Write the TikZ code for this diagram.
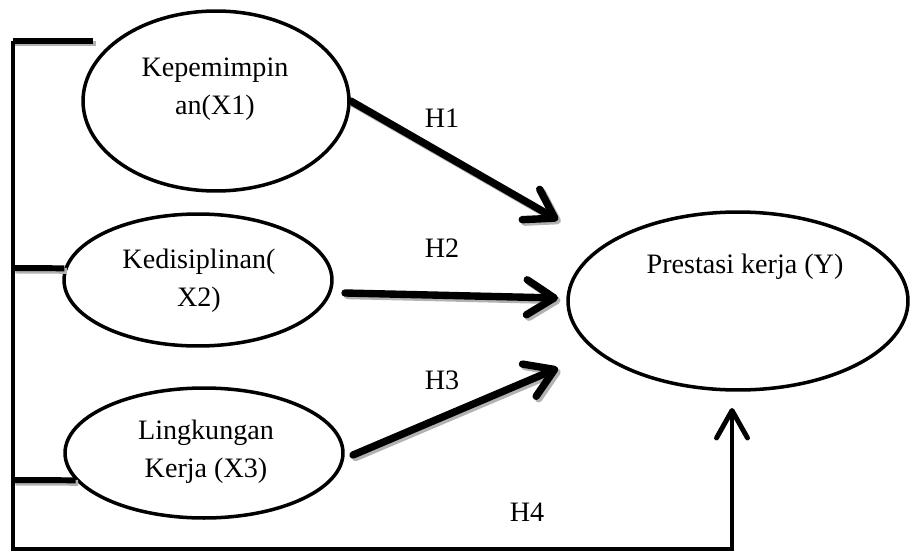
\documentclass[tikz,border=0pt]{standalone}
\usepackage{fontspec}
\setmainfont{Liberation Serif}
\usetikzlibrary{shapes.geometric, arrows.meta}

\tikzset{
    var/.style={draw, ellipse, line width=2pt, inner sep=0pt},
    txt/.style={align=center, font=\fontsize{16}{21.5}\selectfont},
    hyp/.style={line width=4.2pt, line cap=round, line join=round,
        -{Straight Barb[length=0.55cm, width=0.7cm, line cap=round, line join=round]}},
    frame/.style={line width=2.8pt, line join=miter,
        -{Straight Barb[length=0.55cm, width=0.62cm, line cap=round, line join=round]}},
    stub/.style={line width=3.4pt},
    shade/.style={black!30, transform canvas={shift={(0.05cm,-0.05cm)}}},
}

\begin{document}
\begin{tikzpicture}[x=0.02cm, y=-0.02cm]

    \useasboundingbox (0,0) rectangle (911,554);

    % --- Variables ---
    \node[var, minimum width=5.32cm, minimum height=3.6cm]  (x1) at (216,101) {};
    \node[var, minimum width=5.36cm, minimum height=2.64cm] (x2) at (198,280) {};
    \node[var, minimum width=5.56cm, minimum height=2.6cm]  (x3) at (204,453) {};
    \node[var, minimum width=6.8cm,  minimum height=3.56cm] (y)  at (738,301) {};

    % texts sit a bit above the centres
    \node[txt] (x1txt) at (215,89)  {Kepemimpin\\an(X1)};
    \node[txt] (x2txt) at (199,281) {Kedisiplinan(\\X2)};
    \node[txt] (x3txt) at (206,452) {Lingkungan\\Kerja (X3)};
    \node[txt] (ytxt)  at (745,267) {Prestasi kerja (Y)};

    % --- Coordinates ---
    \coordinate (tl) at (13,41);     % top of the bracket
    \coordinate (s1) at (93,41);     % end of top stub
    \coordinate (s2) at (13,268);
    \coordinate (s3) at (13,480);
    \coordinate (bl) at (13,549);
    \coordinate (br) at (732,549);
    \coordinate (t4) at (732,408);   % tip of H4

    \coordinate (a2) at (345,293);
    \coordinate (a3) at (353,455);
    \coordinate (t1) at (558,220);
    \coordinate (t2) at (558,298);
    \coordinate (t3) at (558,368);

    % --- Bracket and H4 ---
    \draw[stub, shade] (tl) -- (s1);
    \draw[stub, shade] (s2) -- (x2.175);
    \draw[stub, shade] (s3) -- (x3.192);
    \draw[stub] (tl) -- (s1);
    \draw[stub] (s2) -- (x2.175);
    \draw[stub] (s3) -- (x3.192);
    \draw[frame] (tl) -- (bl) -- (br) -- (t4);

    % --- Hypotheses ---
    \foreach \s/\t in {x1.east/t1, a2/t2, a3/t3} {
        \draw[hyp, shade] (\s) -- (\t);
        \draw[hyp] (\s) -- (\t);
    }

    \node[txt] (h1) at (442,118) {H1};
    \node[txt] (h2) at (442,248) {H2};
    \node[txt] (h3) at (442,380) {H3};
    \node[txt] (h4) at (527,512) {H4};

\end{tikzpicture}
\end{document}
